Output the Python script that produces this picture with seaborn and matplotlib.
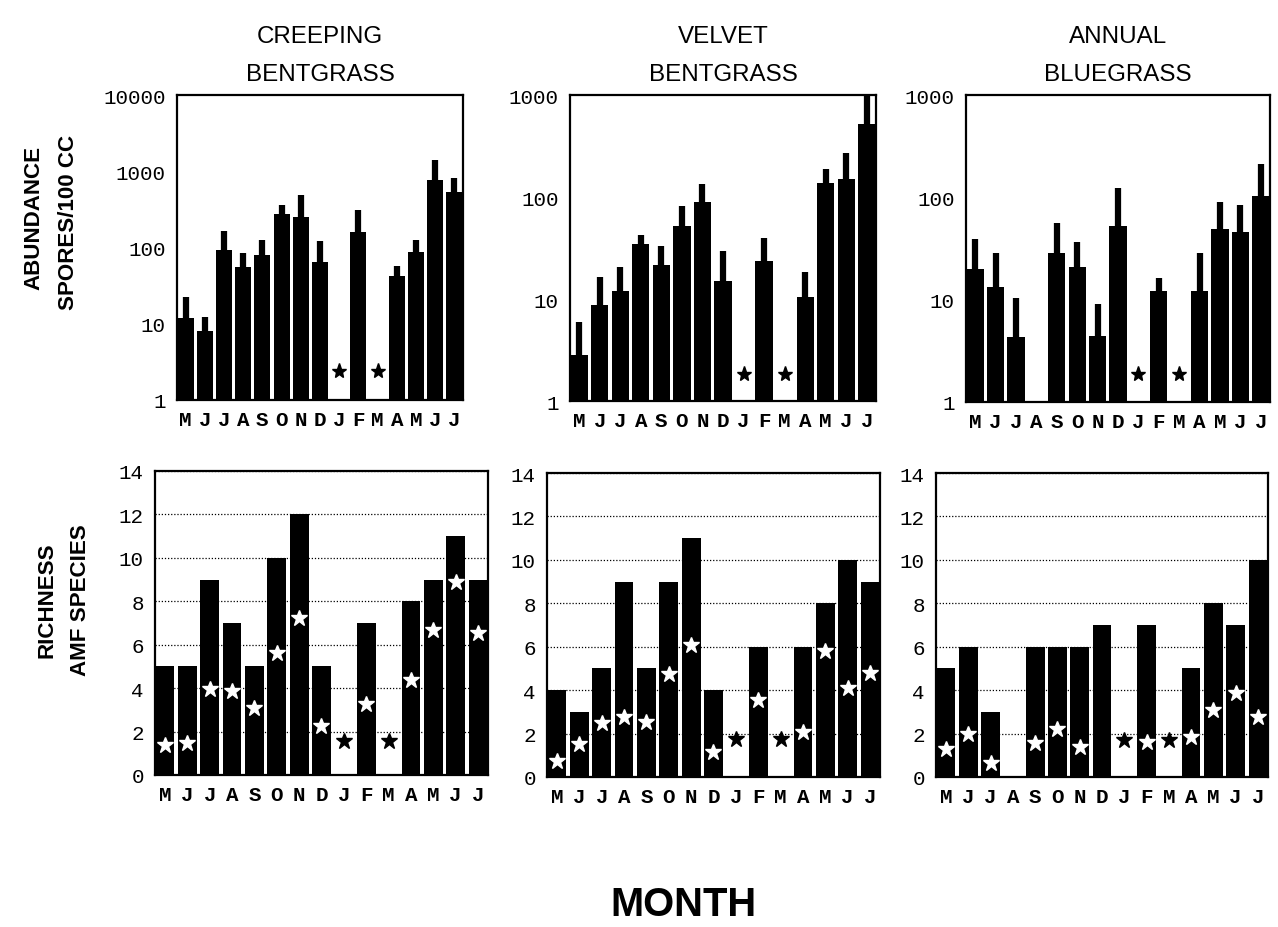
import numpy as np
import matplotlib
matplotlib.use("Agg")
import matplotlib.pyplot as plt
from matplotlib import font_manager
import seaborn as sns

nan = np.nan
months = ['M', 'J', 'J', 'A', 'S', 'O', 'N', 'D', 'J', 'F', 'M', 'A', 'M', 'J', 'J']
titles = ['CREEPING\nBENTGRASS', 'VELVET\nBENTGRASS', 'ANNUAL\nBLUEGRASS']

# Abundance (spores / 100 cc) - bar mean and top of error bar
cb_abund = [12, 8, 94, 55, 80, 277, 248, 65, 0, 162, 0, 42, 87, 773, 533]
cb_abund_err = [22.5, 12.3, 164, 85, 125, 356, 482, 120, nan, 306, nan, 57, 125, 1387, 805]
vb_abund = [2.8, 8.7, 11.9, 34.6, 21.5, 51.7, 90, 15.1, 0, 23.4, 0, 10.4, 138, 150, 514]
vb_abund_err = [5.9, 16.6, 20.4, 42.5, 33.3, 81.9, 135, 29.5, nan, 40, nan, 18.6, 190, 268, 1000]
ab_abund = [20, 13.2, 4.3, 0, 28.9, 21, 4.4, 52, 0, 12.2, 0, 12.2, 49, 45.7, 103]
ab_abund_err = [39, 28.5, 10.4, nan, 56, 37, 9.0, 124, nan, 16.3, nan, 28.9, 91, 83.5, 214]
# asterisks marking months with no spores
cb_abund_star = [nan] * 8 + [2.4, nan, 2.4] + [nan] * 4
vb_abund_star = [nan] * 8 + [1.83, nan, 1.83] + [nan] * 4
ab_abund_star = [nan] * 8 + [1.87, nan, 1.87] + [nan] * 4

# Richness (AMF species) - bar and star position
cb_rich = [5, 5, 9, 7, 5, 10, 12, 5, 0, 7, 0, 8, 9, 11, 9]
cb_rich_star = [1.36, 1.46, 3.95, 3.85, 3.08, 5.64, 7.25, 2.24, 1.56, 3.28, 1.56, 4.39, 6.68, 8.87, 6.54]
vb_rich = [4, 3, 5, 9, 5, 9, 11, 4, 0, 6, 0, 6, 8, 10, 9]
vb_rich_star = [0.75, 1.52, 2.49, 2.76, 2.53, 4.76, 6.06, 1.14, 1.75, 3.56, 1.75, 2.06, 5.79, 4.1, 4.79]
ab_rich = [5, 6, 3, 0, 6, 6, 6, 7, 0, 7, 0, 5, 8, 7, 10]
ab_rich_star = [1.28, 1.97, 0.66, nan, 1.58, 2.2, 1.4, nan, 1.69, 1.62, 1.69, 1.85, 3.09, 3.85, 2.78]

abund = [cb_abund, vb_abund, ab_abund]
abund_err = [cb_abund_err, vb_abund_err, ab_abund_err]
abund_star = [cb_abund_star, vb_abund_star, ab_abund_star]
rich = [cb_rich, vb_rich, ab_rich]
rich_star = [cb_rich_star, vb_rich_star, ab_rich_star]

sns.set_style("white")
names = {f.name for f in font_manager.fontManager.ttflist}
NARROW = 'Liberation Sans Narrow' in names
SANS = ['Liberation Sans Narrow', 'Liberation Sans', 'DejaVu Sans'] if NARROW else ['Liberation Sans', 'DejaVu Sans']
sc = 1.0 if NARROW else 0.87
MONO = ['Liberation Mono', 'DejaVu Sans Mono']
plt.rcParams['font.family'] = MONO
for k in ['text.color', 'axes.labelcolor', 'xtick.color', 'ytick.color', 'axes.edgecolor']:
    plt.rcParams[k] = 'black'

W, H = 1278, 928
fig = plt.figure(figsize=(W / 100, H / 100), dpi=100)


def box(l, r, t, b):
    return [l / W, 1 - b / H, (r - l) / W, (b - t) / H]


top_boxes = [box(177, 463, 96, 401), box(570, 876, 96, 402), box(966, 1270, 96, 403)]
bot_boxes = [box(155, 488, 472, 776), box(547, 880, 474, 778), box(936, 1268, 474, 778)]
x = np.arange(len(months))


def style_axis(ax):
    for s in ax.spines.values():
        s.set_visible(True)
        s.set_color('black')
        s.set_linewidth(1.6)
    ax.set_xlim(-0.45, len(months) - 0.55)
    ax.set_xticks(x)
    ax.set_xticklabels(months, fontsize=15, fontweight='bold', family=MONO)
    ax.tick_params(axis='x', which='both', direction='out', length=4, width=1, pad=3, colors='black')
    ax.tick_params(axis='y', which='major', direction='out', length=4, width=1, pad=4,
                   labelsize=15, colors='black')
    for lab in ax.get_yticklabels():
        lab.set_family(MONO)
    ax.set_xlabel('')
    ax.set_ylabel('')


for i in range(3):
    # ---- abundance (log) ----
    ax = fig.add_axes(top_boxes[i])
    sns.barplot(x=x, y=abund[i], color='black', saturation=1, width=0.84,
                errorbar=None, ax=ax, zorder=2, edgecolor='black', linewidth=0)
    ax.set_yscale('log')
    ymax = 10000 if i == 0 else 1000
    ax.set_ylim(1, ymax)
    vals = np.array(abund[i], float)
    errs = np.array(abund_err[i], float)
    ok = ~np.isnan(errs) & (vals > 0)
    ax.errorbar(x[ok], vals[ok], yerr=[np.zeros(ok.sum()), errs[ok] - vals[ok]],
                fmt='none', ecolor='black', elinewidth=4.5, capsize=0, zorder=3, clip_on=True)
    ax.plot(x, abund_star[i], linestyle='none', marker='*', color='black',
            markersize=11, zorder=4)
    ticks = [1, 10, 100, 1000] + ([10000] if i == 0 else [])
    ax.set_yticks(ticks)
    ax.set_yticklabels([str(t) for t in ticks])
    ax.tick_params(axis='y', which='minor', direction='out', length=2, width=0.8)
    style_axis(ax)
    ax.set_title(titles[i], family=SANS, fontsize=20 * sc, pad=11, linespacing=1.95,
                 color='black')

    # ---- richness ----
    ax = fig.add_axes(bot_boxes[i])
    ax.set_axisbelow(True)
    sns.barplot(x=x, y=rich[i], color='black', saturation=1, width=0.84,
                errorbar=None, ax=ax, zorder=2, edgecolor='black', linewidth=0)
    ax.set_ylim(0, 14)
    ax.set_yticks(range(0, 15, 2))
    ax.set_yticklabels([str(t) for t in range(0, 15, 2)])
    ax.yaxis.grid(True, linestyle=(0, (1, 1.5)), color='black', linewidth=0.9, zorder=0)
    ax.xaxis.grid(False)
    rv = np.array(rich[i], float)
    rs = np.array(rich_star[i], float)
    ax.plot(x[rv > 0], rs[rv > 0], linestyle='none', marker='*', color='white',
            markeredgecolor='white', markersize=12, zorder=4)
    ax.plot(x[rv == 0], rs[rv == 0], linestyle='none', marker='*', color='black',
            markersize=12, zorder=4)
    style_axis(ax)

lab_kw = dict(rotation=90, ha='center', va='center', fontweight='bold', family=SANS,
              color='black')
fig.text(34 / W, 1 - 218 / H, 'ABUNDANCE', fontsize=18.5 * sc, **lab_kw)
fig.text(69 / W, 1 - 222 / H, 'SPORES/100 CC', fontsize=18.5 * sc, **lab_kw)
fig.text(47 / W, 1 - 600 / H, 'RICHNESS', fontsize=18.5 * sc, **lab_kw)
fig.text(80 / W, 1 - 600 / H, 'AMF SPECIES', fontsize=18.5 * sc, **lab_kw)
fig.text(683 / W, 1 - 905 / H, 'MONTH', ha='center', va='center', fontweight='bold',
         family=SANS, fontsize=33 * sc, color='black')

fig.savefig('out.png', dpi=100)
